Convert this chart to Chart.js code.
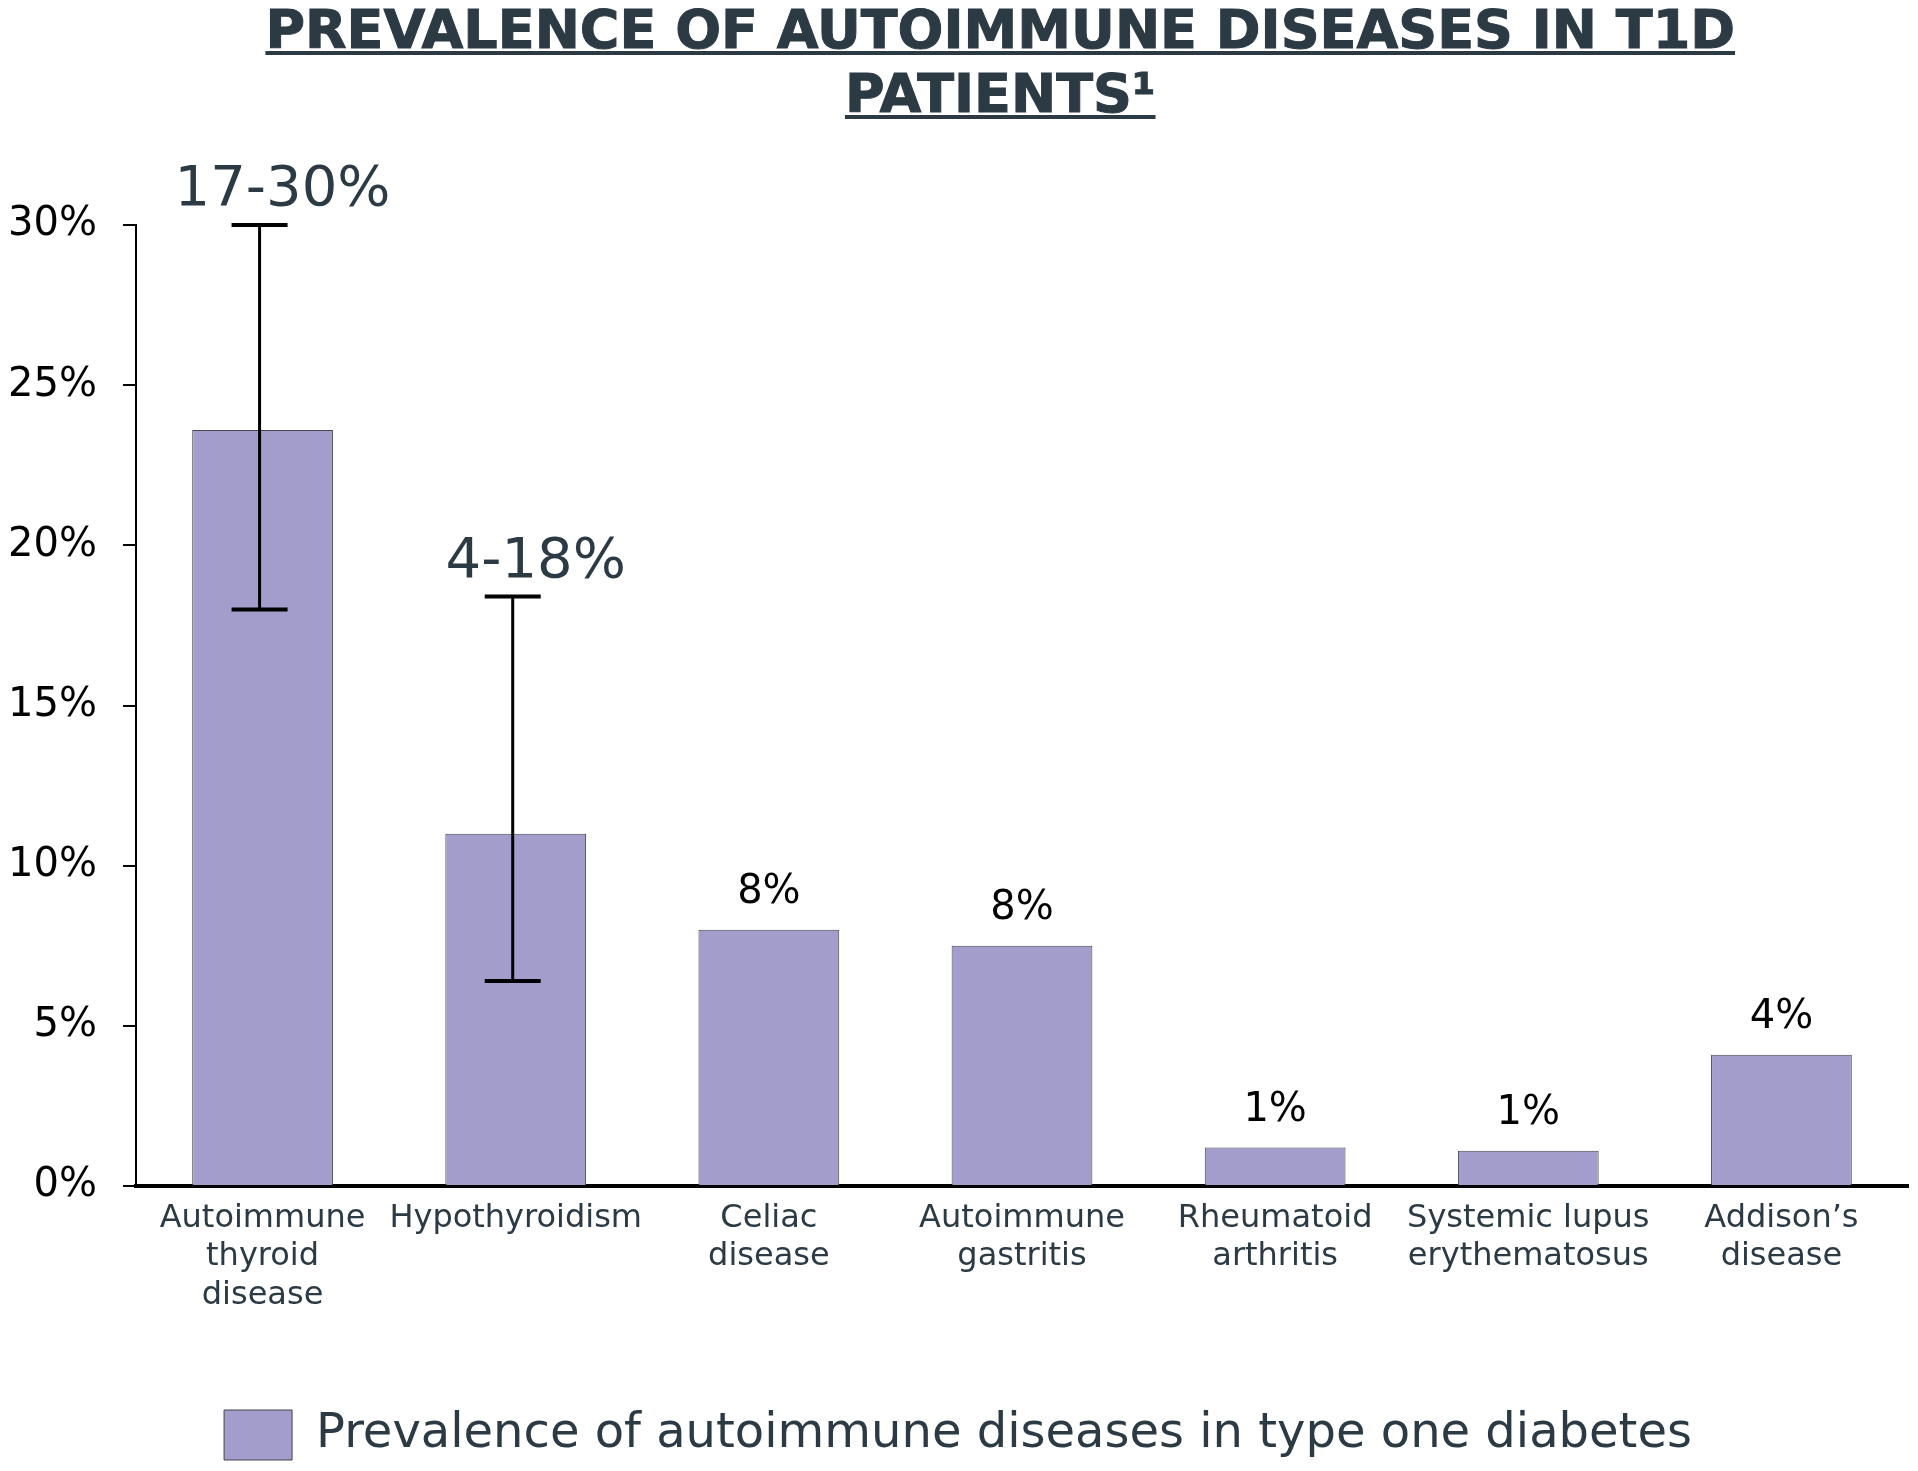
<!DOCTYPE html>
<html>
<head>
<meta charset="utf-8">
<title>Prevalence of autoimmune diseases in T1D patients</title>
<script src="https://cdn.jsdelivr.net/npm/chart.js@4.4.1/dist/chart.umd.min.js"></script>
<style>
  html, body { margin: 0; padding: 0; background: #fff; }
  #wrap { width: 1918px; height: 1471px; position: relative; }
</style>
</head>
<body>
<div id="wrap"><canvas id="chart-prevalence"></canvas></div>
<script>
// --- data ---
var titleLines = ['PREVALENCE OF AUTOIMMUNE DISEASES IN T1D', 'PATIENTS\u00b9'];
var seriesName = 'Prevalence of autoimmune diseases in type one diabetes';
var categories = [
  ['Autoimmune', 'thyroid', 'disease'],
  'Hypothyroidism',
  ['Celiac', 'disease'],
  ['Autoimmune', 'gastritis'],
  ['Rheumatoid', 'arthritis'],
  ['Systemic lupus', 'erythematosus'],
  ['Addison\u2019s', 'disease']
];
var prevalence = [23.6, 11.0, 8.0, 7.5, 1.2, 1.1, 4.1];
var rangeLow = [18.0, 6.4, null, null, null, null, null];
var rangeHigh = [30.0, 18.4, null, null, null, null, null];
var valueLabels = ['17-30%', '4-18%', '8%', '8%', '1%', '1%', '4%'];

var FONT = '"DejaVu Sans", Verdana, sans-serif';
var SLATE = '#2c3a44';

// Title with underline, drawn on top of the canvas
var underlinedTitle = {
  id: 'underlinedTitle',
  afterDraw: function(chart) {
    var ctx = chart.ctx;
    var cx = chart.width * 0.5215;
    ctx.save();
    ctx.font = 'bold 54px ' + FONT;
    ctx.fillStyle = SLATE;
    ctx.strokeStyle = SLATE;
    ctx.lineWidth = 1;
    ctx.textAlign = 'center';
    ctx.textBaseline = 'alphabetic';
    titleLines.forEach(function(line, i) {
      var base = 48 + i * 64;
      ctx.fillText(line, cx, base);
      ctx.strokeText(line, cx, base); // a bit heavier, closer to Verdana Bold
      var w = ctx.measureText(line).width;
      ctx.fillRect(cx - w / 2, base + 3, w, 4);
    });
    ctx.restore();
  }
};

// Range whiskers + value labels above bars
var rangesAndLabels = {
  id: 'rangesAndLabels',
  afterDatasetsDraw: function(chart) {
    var ctx = chart.ctx;
    var yScale = chart.scales.y;
    var meta = chart.getDatasetMeta(0);
    ctx.save();
    meta.data.forEach(function(bar, i) {
      var topVal = prevalence[i];
      var big = rangeLow[i] !== null;
      if (big) {
        var yHi = yScale.getPixelForValue(rangeHigh[i]);
        var yLo = yScale.getPixelForValue(rangeLow[i]);
        var x = bar.x - 3;
        ctx.strokeStyle = '#000';
        ctx.lineWidth = 3;
        ctx.beginPath();
        ctx.moveTo(x, yHi);
        ctx.lineTo(x, yLo);
        ctx.stroke();
        ctx.lineWidth = 4;
        ctx.beginPath();
        ctx.moveTo(x - 28, yHi); ctx.lineTo(x + 28, yHi);
        ctx.moveTo(x - 28, yLo); ctx.lineTo(x + 28, yLo);
        ctx.stroke();
        topVal = rangeHigh[i];
      }
      ctx.font = (big ? '56px ' : '40px ') + FONT;
      ctx.fillStyle = big ? SLATE : '#000';
      ctx.textAlign = 'center';
      ctx.textBaseline = 'alphabetic';
      var gap = big ? 20 : 27;
      ctx.fillText(valueLabels[i], bar.x + (big ? 20 : 0), yScale.getPixelForValue(topVal) - gap);
    });
    ctx.restore();
  }
};

var ctx = document.getElementById('chart-prevalence').getContext('2d');
new Chart(ctx, {
  type: 'bar',
  data: {
    labels: categories,
    datasets: [{
      label: seriesName,
      data: prevalence,
      backgroundColor: '#a39dcb',
      borderColor: '#45454f',
      borderWidth: 1,
      categoryPercentage: 1.0,
      barPercentage: 0.556
    }]
  },
  plugins: [underlinedTitle, rangesAndLabels],
  options: {
    responsive: true,
    maintainAspectRatio: false,
    animation: false,
    devicePixelRatio: 1,
    layout: { padding: { top: 225, left: 8, right: 10, bottom: 1 } },
    plugins: {
      title: { display: false },
      tooltip: { enabled: false },
      legend: {
        display: true,
        position: 'bottom',
        labels: {
          boxWidth: 68,
          boxHeight: 50,
          padding: 10,
          color: SLATE,
          font: { family: FONT, size: 48, lineHeight: 1.0 }
        }
      }
    },
    scales: {
      x: {
        grid: { display: false, drawTicks: false },
        border: { display: true, color: '#000', width: 4 },
        ticks: {
          color: SLATE,
          padding: 14,
          maxRotation: 0,
          autoSkip: false,
          font: { family: FONT, size: 32, lineHeight: 1.19 }
        },
        afterFit: function(scale) { scale.height = 214; }
      },
      y: {
        min: 0,
        max: 30,
        grid: { drawOnChartArea: false, drawTicks: true, tickLength: 13, color: '#000', lineWidth: 2 },
        border: { display: true, color: '#000', width: 2 },
        ticks: {
          stepSize: 5,
          color: '#000',
          padding: 26,
          font: { family: FONT, size: 40 },
          callback: function(v) { return v + '%'; }
        },
        afterFit: function(scale) { scale.width = 128; }
      }
    }
  }
});
</script>
</body>
</html>
